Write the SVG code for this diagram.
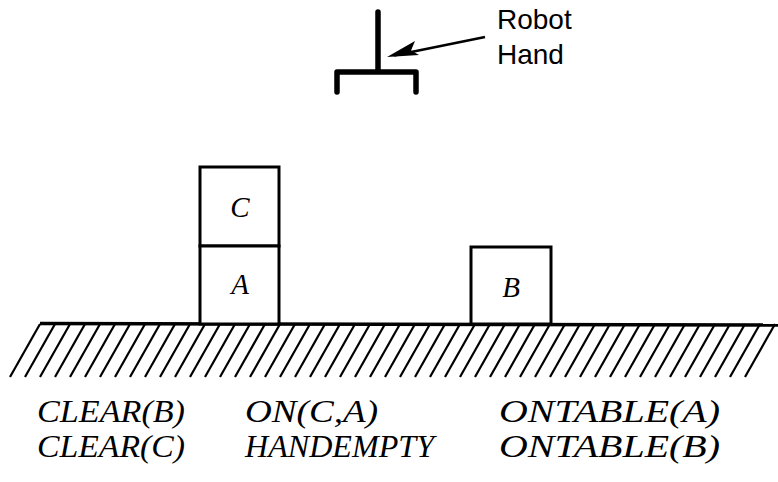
<svg xmlns="http://www.w3.org/2000/svg" width="778" height="482" viewBox="0 0 778 482">
  <style>
    .ink { stroke: #000; fill: none; stroke-linecap: round; stroke-linejoin: round; }
    .block { stroke: #000; stroke-width: 3; fill: #fff; }
    .hatch { stroke: #000; stroke-width: 2.2; }
    .label { font-family: "Liberation Sans", Arial, sans-serif; font-size: 28px; fill: #000; }
    .pred { font-family: "Liberation Serif", "Times New Roman", serif; font-style: italic; font-size: 32px; fill: #000; }
    .name { font-family: "Liberation Serif", "Times New Roman", serif; font-style: italic; font-size: 29px; fill: #000; text-anchor: middle; }
  </style>

  <!-- gripper -->
  <g id="robot-hand">
    <path class="ink" stroke-width="5.5" d="M378,12 V72 M337,92 V72 H416 V92"/>
  </g>

  <g id="hand-label">
    <text class="label" x="497" y="29">Robot</text>
    <text class="label" x="497" y="64">Hand</text>
  </g>

  <g id="connectors">
    <line x1="485" y1="37" x2="394" y2="55.5" stroke="#000" stroke-width="2.8"/>
    <path d="M387,57 L415,41 L411,50.5 L419,55 Z" fill="#000"/>
  </g>

  <!-- table surface with hatching -->
  <g id="table">
    <g class="hatch">
      <line x1="40" y1="324" x2="10" y2="377"/>
      <line x1="55" y1="324" x2="25" y2="377"/>
      <line x1="70" y1="324" x2="40" y2="377"/>
      <line x1="85" y1="324" x2="55" y2="377"/>
      <line x1="100" y1="324" x2="70" y2="377"/>
      <line x1="115" y1="324" x2="85" y2="377"/>
      <line x1="130" y1="324" x2="100" y2="377"/>
      <line x1="145" y1="324" x2="115" y2="377"/>
      <line x1="160" y1="324" x2="130" y2="377"/>
      <line x1="175" y1="324" x2="145" y2="377"/>
      <line x1="190" y1="324" x2="160" y2="377"/>
      <line x1="205" y1="324" x2="175" y2="377"/>
      <line x1="220" y1="324" x2="190" y2="377"/>
      <line x1="235" y1="324" x2="205" y2="377"/>
      <line x1="250" y1="324" x2="220" y2="377"/>
      <line x1="265" y1="324" x2="235" y2="377"/>
      <line x1="280" y1="324" x2="250" y2="377"/>
      <line x1="295" y1="324" x2="265" y2="377"/>
      <line x1="310" y1="324" x2="280" y2="377"/>
      <line x1="325" y1="324" x2="295" y2="377"/>
      <line x1="340" y1="324" x2="310" y2="377"/>
      <line x1="355" y1="324" x2="325" y2="377"/>
      <line x1="370" y1="324" x2="340" y2="377"/>
      <line x1="385" y1="324" x2="355" y2="377"/>
      <line x1="400" y1="324" x2="370" y2="377"/>
      <line x1="415" y1="324" x2="385" y2="377"/>
      <line x1="430" y1="324" x2="400" y2="377"/>
      <line x1="445" y1="324" x2="415" y2="377"/>
      <line x1="460" y1="324" x2="430" y2="377"/>
      <line x1="475" y1="324" x2="445" y2="377"/>
      <line x1="490" y1="324" x2="460" y2="377"/>
      <line x1="505" y1="324" x2="475" y2="377"/>
      <line x1="520" y1="324" x2="490" y2="377"/>
      <line x1="535" y1="324" x2="505" y2="377"/>
      <line x1="550" y1="324" x2="520" y2="377"/>
      <line x1="565" y1="324" x2="535" y2="377"/>
      <line x1="580" y1="324" x2="550" y2="377"/>
      <line x1="595" y1="324" x2="565" y2="377"/>
      <line x1="610" y1="324" x2="580" y2="377"/>
      <line x1="625" y1="324" x2="595" y2="377"/>
      <line x1="640" y1="324" x2="610" y2="377"/>
      <line x1="655" y1="324" x2="625" y2="377"/>
      <line x1="670" y1="324" x2="640" y2="377"/>
      <line x1="685" y1="324" x2="655" y2="377"/>
      <line x1="700" y1="324" x2="670" y2="377"/>
      <line x1="715" y1="324" x2="685" y2="377"/>
      <line x1="730" y1="324" x2="700" y2="377"/>
      <line x1="745" y1="324" x2="715" y2="377"/>
      <line x1="760" y1="324" x2="730" y2="377"/>
      <line x1="775" y1="324" x2="745" y2="377"/>
    </g>
    <line x1="40" y1="323.5" x2="778" y2="325" stroke="#000" stroke-width="3.5"/>
  </g>

  <g id="block-C">
    <rect class="block" x="200" y="167" width="79" height="79"/>
    <text class="name" x="240" y="217">C</text>
  </g>
  <g id="block-A">
    <rect class="block" x="200" y="246" width="79" height="78"/>
    <text class="name" x="240" y="294">A</text>
  </g>
  <g id="block-B">
    <rect class="block" x="471" y="247" width="80" height="77"/>
    <text class="name" x="511" y="297">B</text>
  </g>

  <!-- state description -->
  <g id="state">
    <text class="pred" x="37" y="422" textLength="148" lengthAdjust="spacingAndGlyphs">CLEAR(B)</text>
    <text class="pred" x="37" y="457" textLength="148" lengthAdjust="spacingAndGlyphs">CLEAR(C)</text>
    <text class="pred" x="245" y="422" textLength="133" lengthAdjust="spacingAndGlyphs">ON(C,A)</text>
    <text class="pred" x="245" y="457" textLength="189" lengthAdjust="spacingAndGlyphs">HANDEMPTY</text>
    <text class="pred" x="499" y="422" textLength="221" lengthAdjust="spacingAndGlyphs">ONTABLE(A)</text>
    <text class="pred" x="499" y="457" textLength="221" lengthAdjust="spacingAndGlyphs">ONTABLE(B)</text>
  </g>
</svg>
